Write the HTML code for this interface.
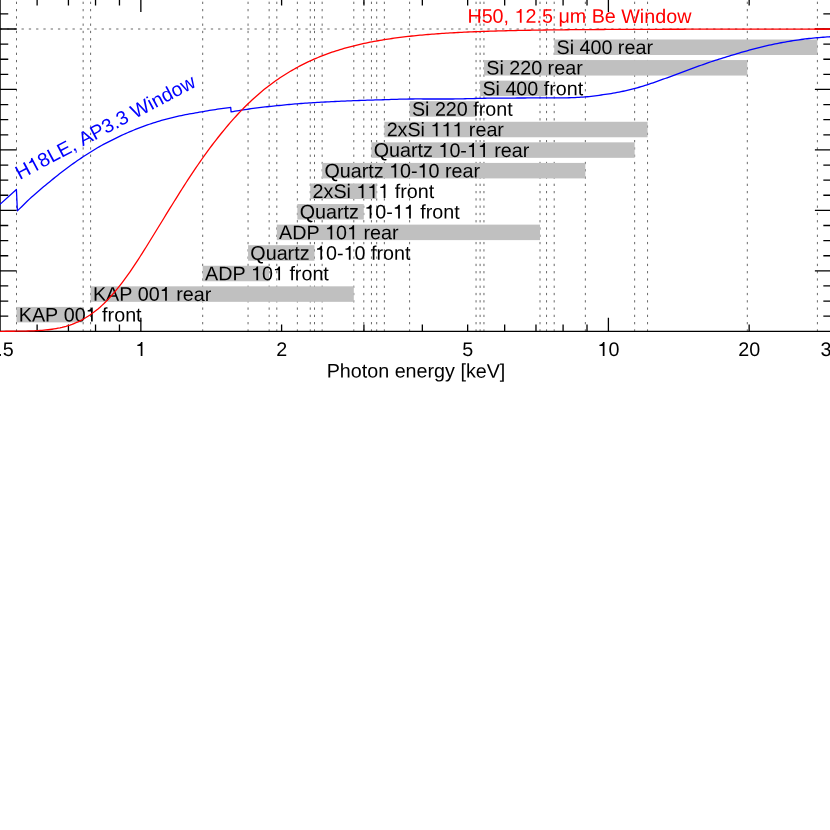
<!DOCTYPE html>
<html><head><meta charset="utf-8"><title>chart</title>
<style>html,body{margin:0;padding:0;background:#fff}svg{display:block}text{font-family:"Liberation Sans",sans-serif;font-size:19.72px;fill:#000;font-kerning:none;white-space:pre}.h{fill:none}</style>
</head><body>
<svg width="830" height="830" viewBox="0 0 830 830" style="will-change:transform">
<rect width="830" height="830" fill="#fff"/>
<path d="M16.50 331.60V-1.50M83.15 331.60V-1.50M90.60 331.60V-1.50M353.80 331.60V-1.50M202.70 331.60V-1.50M269.15 331.60V-1.50M248.05 331.60V-1.50M314.50 331.60V-1.50M276.80 331.60V-1.50M540.00 331.60V-1.50M297.35 331.60V-1.50M363.80 331.60V-1.50M310.25 331.60V-1.50M376.70 331.60V-1.50M322.15 331.60V-1.50M585.35 331.60V-1.50M371.45 331.60V-1.50M634.65 331.60V-1.50M384.35 331.60V-1.50M647.55 331.60V-1.50M409.60 331.60V-1.50M476.05 331.60V-1.50M480.10 331.60V-1.50M546.55 331.60V-1.50M483.95 331.60V-1.50M747.30 331.60V-1.50M554.20 331.60V-1.50M817.40 331.60V-1.50" fill="none" stroke="#000" stroke-width="0.6" stroke-dasharray="2.3 4.980"/>
<path d="M-0.3 29.00H831.48" fill="none" stroke="#000" stroke-width="0.6" stroke-dasharray="2.3 4.980"/>
<path d="M0.10 -1.50V331.30H831.48V-1.50ZM140.85 331.30v-13.45M140.85 -1.50v13.45M608.40 331.30v-13.45M608.40 -1.50v13.45M37.12 331.30v-6.9M37.12 -1.50v6.9M68.43 331.30v-6.9M68.43 -1.50v6.9M95.54 331.30v-6.9M95.54 -1.50v6.9M119.46 331.30v-6.9M119.46 -1.50v6.9M281.60 331.30v-6.9M281.60 -1.50v6.9M363.93 331.30v-6.9M363.93 -1.50v6.9M422.34 331.30v-6.9M422.34 -1.50v6.9M467.65 331.30v-6.9M467.65 -1.50v6.9M504.67 331.30v-6.9M504.67 -1.50v6.9M535.98 331.30v-6.9M535.98 -1.50v6.9M563.09 331.30v-6.9M563.09 -1.50v6.9M587.01 331.30v-6.9M587.01 -1.50v6.9M749.15 331.30v-6.9M749.15 -1.50v6.9M0.10 316.19h8.15M831.48 316.19h-8.15M0.10 301.07h8.15M831.48 301.07h-8.15M0.10 285.96h8.15M831.48 285.96h-8.15M0.10 270.84h16.6M831.48 270.84h-16.6M0.10 255.73h8.15M831.48 255.73h-8.15M0.10 240.61h8.15M831.48 240.61h-8.15M0.10 225.50h8.15M831.48 225.50h-8.15M0.10 210.38h16.6M831.48 210.38h-16.6M0.10 195.27h8.15M831.48 195.27h-8.15M0.10 180.15h8.15M831.48 180.15h-8.15M0.10 165.03h8.15M831.48 165.03h-8.15M0.10 149.92h16.6M831.48 149.92h-16.6M0.10 134.81h8.15M831.48 134.81h-8.15M0.10 119.69h8.15M831.48 119.69h-8.15M0.10 104.58h8.15M831.48 104.58h-8.15M0.10 89.46h16.6M831.48 89.46h-16.6M0.10 74.35h8.15M831.48 74.35h-8.15M0.10 59.23h8.15M831.48 59.23h-8.15M0.10 44.12h8.15M831.48 44.12h-8.15M0.10 29.00h16.6M831.48 29.00h-16.6M0.10 13.88h8.15M831.48 13.88h-8.15M0.10 -1.23h8.15M831.48 -1.23h-8.15" fill="none" stroke="#000" stroke-width="1.3" stroke-linecap="butt"/>
<rect x="16.50" y="306.90" width="66.65" height="15.5" fill="#c0c0c0"/>
<rect x="90.60" y="286.33" width="263.20" height="15.5" fill="#c0c0c0"/>
<rect x="202.70" y="265.76" width="66.45" height="15.5" fill="#c0c0c0"/>
<rect x="248.05" y="245.19" width="66.45" height="15.5" fill="#c0c0c0"/>
<rect x="276.80" y="224.62" width="263.20" height="15.5" fill="#c0c0c0"/>
<rect x="297.35" y="204.05" width="66.45" height="15.5" fill="#c0c0c0"/>
<rect x="310.25" y="183.48" width="66.45" height="15.5" fill="#c0c0c0"/>
<rect x="322.15" y="162.91" width="263.20" height="15.5" fill="#c0c0c0"/>
<rect x="371.45" y="142.34" width="263.20" height="15.5" fill="#c0c0c0"/>
<rect x="384.35" y="121.77" width="263.20" height="15.5" fill="#c0c0c0"/>
<rect x="409.60" y="101.20" width="66.45" height="15.5" fill="#c0c0c0"/>
<rect x="480.10" y="80.63" width="66.45" height="15.5" fill="#c0c0c0"/>
<rect x="483.95" y="60.06" width="263.35" height="15.5" fill="#c0c0c0"/>
<rect x="554.20" y="39.49" width="263.20" height="15.5" fill="#c0c0c0"/>
<text transform="matrix(1 0.0005 0 1 18.80 321.40)" x="0.00 13.15 26.31 39.46 44.94 55.91 66.87 77.84 83.32 88.80 95.36 106.33 117.30">KAP 00<tspan class="h">1</tspan> front</text>
<g transform="matrix(1 0.0005 0 1 18.80 321.40)" fill="#000"><path transform="translate(66.87 0) scale(0.01972 -0.01972)" d="M359 0H271V505H101V568C190 570 255 610 290 703H359Z"/></g>
<text transform="matrix(1 0.0005 0 1 92.90 300.83)" x="0.00 13.15 26.31 39.46 44.94 55.91 66.87 77.84 83.32 89.89 100.85 111.82">KAP 00<tspan class="h">1</tspan> rear</text>
<g transform="matrix(1 0.0005 0 1 92.90 300.83)" fill="#000"><path transform="translate(66.87 0) scale(0.01972 -0.01972)" d="M359 0H271V505H101V568C190 570 255 610 290 703H359Z"/></g>
<text transform="matrix(1 0.0005 0 1 205.00 280.26)" x="0.00 13.15 27.39 40.55 46.03 56.99 67.96 78.93 84.41 89.89 96.45 107.42 118.39">ADP <tspan class="h">1</tspan>0<tspan class="h">1</tspan> front</text>
<g transform="matrix(1 0.0005 0 1 205.00 280.26)" fill="#000"><path transform="translate(46.03 0) scale(0.01972 -0.01972)" d="M359 0H271V505H101V568C190 570 255 610 290 703H359Z"/><path transform="translate(67.96 0) scale(0.01972 -0.01972)" d="M359 0H271V505H101V568C190 570 255 610 290 703H359Z"/></g>
<text transform="matrix(1 0.0005 0 1 250.35 259.69)" x="0.00 15.34 26.31 37.27 43.84 49.32 59.18 64.66 75.63 86.59 93.16 104.13 115.09 120.57 126.05 132.62 143.59 154.55">Quartz <tspan class="h">1</tspan>0-<tspan class="h">1</tspan>0 front</text>
<g transform="matrix(1 0.0005 0 1 250.35 259.69)" fill="#000"><path transform="translate(64.66 0) scale(0.01972 -0.01972)" d="M359 0H271V505H101V568C190 570 255 610 290 703H359Z"/><path transform="translate(93.16 0) scale(0.01972 -0.01972)" d="M359 0H271V505H101V568C190 570 255 610 290 703H359Z"/></g>
<text transform="matrix(1 0.0005 0 1 279.10 239.12)" x="0.00 13.15 27.39 40.55 46.03 56.99 67.96 78.93 84.41 90.97 101.94 112.91">ADP <tspan class="h">1</tspan>0<tspan class="h">1</tspan> rear</text>
<g transform="matrix(1 0.0005 0 1 279.10 239.12)" fill="#000"><path transform="translate(46.03 0) scale(0.01972 -0.01972)" d="M359 0H271V505H101V568C190 570 255 610 290 703H359Z"/><path transform="translate(67.96 0) scale(0.01972 -0.01972)" d="M359 0H271V505H101V568C190 570 255 610 290 703H359Z"/></g>
<text transform="matrix(1 0.0005 0 1 299.65 218.55)" x="0.00 15.34 26.31 37.27 43.84 49.32 59.18 64.66 75.63 86.59 93.16 104.13 115.09 120.57 126.05 132.62 143.59 154.55">Quartz <tspan class="h">1</tspan>0-<tspan class="h">1</tspan><tspan class="h">1</tspan> front</text>
<g transform="matrix(1 0.0005 0 1 299.65 218.55)" fill="#000"><path transform="translate(64.66 0) scale(0.01972 -0.01972)" d="M359 0H271V505H101V568C190 570 255 610 290 703H359Z"/><path transform="translate(93.16 0) scale(0.01972 -0.01972)" d="M359 0H271V505H101V568C190 570 255 610 290 703H359Z"/><path transform="translate(104.13 0) scale(0.01972 -0.01972)" d="M359 0H271V505H101V568C190 570 255 610 290 703H359Z"/></g>
<text transform="matrix(1 0.0005 0 1 312.55 197.98)" x="0.00 10.97 20.83 33.98 38.36 43.84 54.81 65.78 76.74 82.22 87.70 94.27 105.23 116.20">2xSi <tspan class="h">1</tspan><tspan class="h">1</tspan><tspan class="h">1</tspan> front</text>
<g transform="matrix(1 0.0005 0 1 312.55 197.98)" fill="#000"><path transform="translate(43.84 0) scale(0.01972 -0.01972)" d="M359 0H271V505H101V568C190 570 255 610 290 703H359Z"/><path transform="translate(54.81 0) scale(0.01972 -0.01972)" d="M359 0H271V505H101V568C190 570 255 610 290 703H359Z"/><path transform="translate(65.78 0) scale(0.01972 -0.01972)" d="M359 0H271V505H101V568C190 570 255 610 290 703H359Z"/></g>
<text transform="matrix(1 0.0005 0 1 324.45 177.41)" x="0.00 15.34 26.31 37.27 43.84 49.32 59.18 64.66 75.63 86.59 93.16 104.13 115.09 120.57 127.14 138.11 149.07">Quartz <tspan class="h">1</tspan>0-<tspan class="h">1</tspan>0 rear</text>
<g transform="matrix(1 0.0005 0 1 324.45 177.41)" fill="#000"><path transform="translate(64.66 0) scale(0.01972 -0.01972)" d="M359 0H271V505H101V568C190 570 255 610 290 703H359Z"/><path transform="translate(93.16 0) scale(0.01972 -0.01972)" d="M359 0H271V505H101V568C190 570 255 610 290 703H359Z"/></g>
<text transform="matrix(1 0.0005 0 1 373.75 156.84)" x="0.00 15.34 26.31 37.27 43.84 49.32 59.18 64.66 75.63 86.59 93.16 104.13 115.09 120.57 127.14 138.11 149.07">Quartz <tspan class="h">1</tspan>0-<tspan class="h">1</tspan><tspan class="h">1</tspan> rear</text>
<g transform="matrix(1 0.0005 0 1 373.75 156.84)" fill="#000"><path transform="translate(64.66 0) scale(0.01972 -0.01972)" d="M359 0H271V505H101V568C190 570 255 610 290 703H359Z"/><path transform="translate(93.16 0) scale(0.01972 -0.01972)" d="M359 0H271V505H101V568C190 570 255 610 290 703H359Z"/><path transform="translate(104.13 0) scale(0.01972 -0.01972)" d="M359 0H271V505H101V568C190 570 255 610 290 703H359Z"/></g>
<text transform="matrix(1 0.0005 0 1 386.65 136.27)" x="0.00 10.97 20.83 33.98 38.36 43.84 54.81 65.78 76.74 82.22 88.79 99.76 110.72">2xSi <tspan class="h">1</tspan><tspan class="h">1</tspan><tspan class="h">1</tspan> rear</text>
<g transform="matrix(1 0.0005 0 1 386.65 136.27)" fill="#000"><path transform="translate(43.84 0) scale(0.01972 -0.01972)" d="M359 0H271V505H101V568C190 570 255 610 290 703H359Z"/><path transform="translate(54.81 0) scale(0.01972 -0.01972)" d="M359 0H271V505H101V568C190 570 255 610 290 703H359Z"/><path transform="translate(65.78 0) scale(0.01972 -0.01972)" d="M359 0H271V505H101V568C190 570 255 610 290 703H359Z"/></g>
<text transform="matrix(1 0.0005 0 1 411.90 115.70)" x="0.00 13.15 17.53 23.01 33.98 44.95 55.92 61.39 66.87 73.44 84.41 95.37">Si 220 front</text>
<text transform="matrix(1 0.0005 0 1 482.40 95.13)" x="0.00 13.15 17.53 23.01 33.98 44.95 55.92 61.39 66.87 73.44 84.41 95.37">Si 400 front</text>
<text transform="matrix(1 0.0005 0 1 486.25 74.56)" x="0.00 13.15 17.53 23.01 33.98 44.95 55.92 61.39 67.96 78.93 89.90">Si 220 rear</text>
<text transform="matrix(1 0.0005 0 1 556.50 53.99)" x="0.00 13.15 17.53 23.01 33.98 44.95 55.92 61.39 67.96 78.93 89.90">Si 400 rear</text>
<text transform="matrix(1 0.0005 0 1 0.10 355.90)" x="-13.71 -2.74 2.74">0.5</text>
<text transform="matrix(1 0.0005 0 1 140.85 355.90)" x="-5.48"><tspan class="h">1</tspan></text>
<g transform="matrix(1 0.0005 0 1 140.85 355.90)" fill="#000"><path transform="translate(-5.48 0) scale(0.01972 -0.01972)" d="M359 0H271V505H101V568C190 570 255 610 290 703H359Z"/></g>
<text transform="matrix(1 0.0005 0 1 281.60 355.90)" x="-5.48">2</text>
<text transform="matrix(1 0.0005 0 1 467.65 355.90)" x="-5.48">5</text>
<text transform="matrix(1 0.0005 0 1 608.40 355.90)" x="-10.97 0.00"><tspan class="h">1</tspan>0</text>
<g transform="matrix(1 0.0005 0 1 608.40 355.90)" fill="#000"><path transform="translate(-10.97 0) scale(0.01972 -0.01972)" d="M359 0H271V505H101V568C190 570 255 610 290 703H359Z"/></g>
<text transform="matrix(1 0.0005 0 1 749.15 355.90)" x="-10.97 0.00">20</text>
<text transform="matrix(1 0.0005 0 1 831.48 355.90)" x="-10.97 0.00">30</text>
<text transform="matrix(1 0.0005 0 1 416.00 377.60)" x="-89.35 -76.19 -65.23 -54.26 -48.78 -37.81 -26.85 -21.37 -10.40 0.57 11.54 18.10 29.07 38.93 44.41 49.89 59.75 70.71 83.87">Photon energy [keV]</text>
<path d="M-3.0 206.90 L0.0 204.30 L16.4 189.45 L17.4 210.80 L19.4 208.86 L21.4 206.92 L23.4 204.97 L25.4 203.01 L27.4 201.04 L29.4 199.11 L31.4 197.27 L33.5 195.49 L35.5 193.74 L37.5 191.98 L39.5 190.24 L41.5 188.52 L43.5 186.83 L45.5 185.17 L47.5 183.52 L49.5 181.89 L51.5 180.25 L53.5 178.63 L55.5 177.02 L57.5 175.42 L59.5 173.85 L61.5 172.29 L63.5 170.76 L65.5 169.24 L67.5 167.74 L69.5 166.26 L71.5 164.80 L73.5 163.36 L75.5 161.94 L77.5 160.55 L79.5 159.18 L81.5 157.84 L83.5 156.52 L85.5 155.22 L87.5 153.95 L89.5 152.69 L91.5 151.44 L93.5 150.20 L95.5 148.99 L97.5 147.80 L99.5 146.64 L101.5 145.53 L103.5 144.44 L105.5 143.38 L107.5 142.34 L109.5 141.31 L111.5 140.30 L113.5 139.30 L115.5 138.30 L117.5 137.32 L119.5 136.35 L121.5 135.40 L123.5 134.49 L125.5 133.60 L127.5 132.73 L129.4 131.88 L131.4 131.06 L133.4 130.24 L135.4 129.45 L137.4 128.66 L139.4 127.89 L141.4 127.13 L143.4 126.38 L145.4 125.65 L147.4 124.95 L149.4 124.25 L151.4 123.57 L153.4 122.91 L155.4 122.26 L157.4 121.63 L159.4 121.03 L161.4 120.45 L163.4 119.90 L165.4 119.36 L167.4 118.85 L169.4 118.34 L171.4 117.85 L173.4 117.37 L175.4 116.90 L177.4 116.43 L179.4 115.98 L181.4 115.55 L183.4 115.13 L185.4 114.73 L187.4 114.35 L189.4 113.98 L191.4 113.62 L193.4 113.27 L195.4 112.93 L197.4 112.58 L199.4 112.23 L201.4 111.87 L203.4 111.52 L205.4 111.16 L207.4 110.81 L209.4 110.46 L211.4 110.13 L213.4 109.82 L215.4 109.52 L217.4 109.23 L219.4 108.94 L221.4 108.66 L223.4 108.38 L225.4 108.10 L227.4 107.82 L229.4 107.54 L230.7 107.37 L231.1 111.94 L233.1 111.57 L235.1 111.21 L237.1 110.86 L239.1 110.53 L241.1 110.20 L243.1 109.89 L245.1 109.58 L247.1 109.28 L249.1 108.99 L251.1 108.71 L253.1 108.44 L255.1 108.18 L257.1 107.92 L259.1 107.68 L261.1 107.44 L263.1 107.20 L265.1 106.97 L267.1 106.75 L269.1 106.52 L271.1 106.31 L273.1 106.09 L275.1 105.88 L277.1 105.68 L279.1 105.48 L281.1 105.28 L283.1 105.08 L285.1 104.89 L287.1 104.69 L289.1 104.50 L291.1 104.32 L293.1 104.13 L295.1 103.96 L297.1 103.79 L299.1 103.64 L301.1 103.49 L303.1 103.35 L305.1 103.21 L307.1 103.08 L309.1 102.95 L311.1 102.82 L313.1 102.69 L315.1 102.57 L317.1 102.45 L319.1 102.33 L321.1 102.21 L323.1 102.10 L325.1 101.99 L327.1 101.89 L329.1 101.78 L331.1 101.68 L333.1 101.58 L335.1 101.49 L337.1 101.40 L339.1 101.30 L341.1 101.22 L343.1 101.13 L345.1 101.04 L347.1 100.96 L349.1 100.88 L351.1 100.80 L353.1 100.72 L355.1 100.65 L357.1 100.57 L359.1 100.50 L361.1 100.43 L363.1 100.36 L365.1 100.29 L367.1 100.22 L369.1 100.16 L371.1 100.09 L373.1 100.03 L375.1 99.97 L377.1 99.91 L379.1 99.85 L381.1 99.79 L383.1 99.73 L385.1 99.66 L387.1 99.59 L389.1 99.53 L391.1 99.46 L393.1 99.40 L395.1 99.34 L397.1 99.28 L399.1 99.22 L401.1 99.17 L403.1 99.13 L405.1 99.08 L407.1 99.05 L409.1 99.02 L411.1 99.00 L413.1 98.98 L415.1 98.97 L417.1 98.97 L419.1 98.97 L421.1 98.97 L423.1 98.98 L425.1 98.98 L427.1 98.98 L429.1 98.98 L431.1 98.98 L433.1 98.98 L435.1 98.99 L437.1 98.99 L439.1 98.99 L441.1 98.99 L443.1 98.99 L445.1 99.00 L447.1 99.00 L449.1 99.00 L451.1 98.99 L453.1 98.98 L455.1 98.96 L457.1 98.94 L459.1 98.90 L461.1 98.86 L463.1 98.81 L465.1 98.76 L467.1 98.70 L469.1 98.65 L471.1 98.59 L473.1 98.53 L475.1 98.48 L477.1 98.42 L479.1 98.37 L481.1 98.32 L483.1 98.28 L485.1 98.24 L487.1 98.21 L489.1 98.19 L491.1 98.18 L493.1 98.16 L495.1 98.14 L497.1 98.13 L499.1 98.12 L501.1 98.10 L503.1 98.09 L505.1 98.08 L507.1 98.07 L509.1 98.06 L511.1 98.05 L513.1 98.04 L515.1 98.03 L517.1 98.02 L519.1 98.01 L521.1 98.00 L523.1 97.99 L525.1 97.98 L527.1 97.97 L529.1 97.96 L531.1 97.96 L533.1 97.95 L535.1 97.94 L537.1 97.94 L539.1 97.93 L541.1 97.93 L543.1 97.92 L545.1 97.92 L547.1 97.91 L549.1 97.91 L551.1 97.90 L553.1 97.89 L555.1 97.89 L557.1 97.88 L559.1 97.87 L561.1 97.86 L563.1 97.85 L565.1 97.83 L567.1 97.81 L569.1 97.77 L571.1 97.71 L573.1 97.63 L575.1 97.54 L577.1 97.43 L579.1 97.31 L581.1 97.19 L583.1 97.06 L585.1 96.92 L587.1 96.76 L589.1 96.57 L591.1 96.34 L593.1 96.09 L595.1 95.82 L597.1 95.55 L599.1 95.27 L601.1 95.00 L603.1 94.73 L605.1 94.44 L607.1 94.15 L609.1 93.84 L611.1 93.52 L613.1 93.18 L615.1 92.83 L617.1 92.46 L619.1 92.08 L621.1 91.67 L623.1 91.25 L625.1 90.81 L627.1 90.36 L629.1 89.89 L631.1 89.41 L633.1 88.90 L635.1 88.37 L637.1 87.82 L639.1 87.25 L641.1 86.67 L643.1 86.08 L645.1 85.46 L647.1 84.82 L649.1 84.16 L651.1 83.47 L653.1 82.78 L655.1 82.08 L657.1 81.38 L659.1 80.67 L661.1 79.96 L663.1 79.23 L665.1 78.50 L667.1 77.77 L669.1 77.03 L671.1 76.29 L673.1 75.55 L675.1 74.81 L677.1 74.07 L679.1 73.32 L681.1 72.58 L683.1 71.83 L685.1 71.09 L687.1 70.36 L689.1 69.62 L691.1 68.88 L693.1 68.15 L695.1 67.42 L697.1 66.69 L699.1 65.97 L701.1 65.25 L703.1 64.55 L705.1 63.84 L707.1 63.14 L709.1 62.45 L711.1 61.76 L713.1 61.09 L715.1 60.43 L717.1 59.79 L719.1 59.17 L721.1 58.55 L723.1 57.94 L725.1 57.33 L727.1 56.71 L729.1 56.09 L731.1 55.48 L733.1 54.87 L735.1 54.26 L737.1 53.67 L739.1 53.08 L741.1 52.49 L743.1 51.91 L745.1 51.33 L747.1 50.76 L749.1 50.20 L751.1 49.65 L753.1 49.11 L755.1 48.59 L757.1 48.08 L759.1 47.58 L761.1 47.08 L763.1 46.60 L765.1 46.13 L767.1 45.67 L769.1 45.23 L771.1 44.79 L773.1 44.36 L775.1 43.95 L777.1 43.54 L779.1 43.14 L781.1 42.76 L783.1 42.39 L785.1 42.03 L787.1 41.68 L789.1 41.33 L791.1 41.00 L793.1 40.68 L795.1 40.37 L797.1 40.08 L799.1 39.79 L801.1 39.51 L803.1 39.24 L805.1 38.98 L807.1 38.74 L809.1 38.51 L811.1 38.30 L813.1 38.10 L815.1 37.91 L817.1 37.74 L819.1 37.56 L821.1 37.40 L823.1 37.25 L825.1 37.10 L827.1 36.96 L829.1 36.82 L831.1 36.70 L833.1 36.58 L835.1 36.48 L836.0 36.43" fill="none" stroke="#00f" stroke-width="1.3" stroke-linejoin="round"/>
<path d="M-2.0 331.29 L0.0 331.29 L2.0 331.29 L4.0 331.28 L6.0 331.27 L8.0 331.27 L10.0 331.26 L12.0 331.25 L14.0 331.23 L16.0 331.22 L18.0 331.20 L20.0 331.17 L22.0 331.14 L24.0 331.11 L26.0 331.06 L28.0 331.01 L30.0 330.95 L32.0 330.88 L34.0 330.80 L36.0 330.70 L38.0 330.59 L40.0 330.47 L42.0 330.32 L44.0 330.16 L46.0 329.97 L48.0 329.75 L50.0 329.51 L52.0 329.24 L54.0 328.94 L56.0 328.60 L58.0 328.22 L60.0 327.81 L62.0 327.35 L64.0 326.84 L66.0 326.29 L68.0 325.69 L70.0 325.03 L72.0 324.32 L74.0 323.54 L76.0 322.71 L78.0 321.81 L80.0 320.84 L82.0 319.81 L84.0 318.71 L86.0 317.53 L88.0 316.28 L90.0 314.96 L92.0 313.56 L94.0 312.08 L96.0 310.52 L98.0 308.89 L100.0 307.18 L102.0 305.37 L104.0 303.48 L106.0 301.49 L108.0 299.41 L110.0 297.26 L112.0 295.02 L114.0 292.71 L116.0 290.34 L118.0 287.89 L120.0 285.38 L122.0 282.79 L124.0 280.13 L126.0 277.42 L128.0 274.64 L130.0 271.80 L132.0 268.90 L134.0 265.94 L136.0 262.93 L138.0 259.86 L140.0 256.75 L142.0 253.60 L144.0 250.43 L146.0 247.22 L148.0 244.00 L150.0 240.76 L152.0 237.51 L154.0 234.26 L156.0 231.01 L158.0 227.76 L160.0 224.50 L162.0 221.23 L164.0 217.97 L166.0 214.71 L168.0 211.46 L170.0 208.21 L172.0 204.98 L174.0 201.75 L176.0 198.54 L178.0 195.35 L180.0 192.17 L182.0 189.01 L184.0 185.88 L186.0 182.77 L188.0 179.69 L190.0 176.64 L192.0 173.62 L194.0 170.63 L196.0 167.68 L198.0 164.75 L200.0 161.86 L202.0 159.00 L204.0 156.18 L206.0 153.40 L208.0 150.65 L210.0 147.94 L212.0 145.26 L214.0 142.63 L216.0 140.04 L218.0 137.49 L220.0 134.98 L222.0 132.52 L224.0 130.07 L226.0 127.65 L228.0 125.27 L230.0 122.93 L232.0 120.64 L234.0 118.40 L236.0 116.19 L238.0 114.03 L240.0 111.91 L242.0 109.83 L244.0 107.79 L246.0 105.79 L248.0 103.83 L250.0 101.92 L252.0 100.04 L254.0 98.21 L256.0 96.41 L258.0 94.66 L260.0 92.94 L262.0 91.26 L264.0 89.62 L266.0 88.02 L268.0 86.46 L270.0 84.93 L272.0 83.43 L274.0 81.98 L276.0 80.56 L278.0 79.17 L280.0 77.82 L282.0 76.50 L284.0 75.20 L286.0 73.94 L288.0 72.71 L290.0 71.51 L292.0 70.34 L294.0 69.20 L296.0 68.09 L298.0 67.00 L300.0 65.93 L302.0 64.89 L304.0 63.88 L306.0 62.89 L308.0 61.93 L310.0 60.99 L312.0 60.08 L314.0 59.20 L316.0 58.34 L318.0 57.50 L320.0 56.68 L322.0 55.89 L324.0 55.12 L326.0 54.36 L328.0 53.63 L330.0 52.92 L332.0 52.23 L334.0 51.56 L336.0 50.91 L338.0 50.27 L340.0 49.66 L342.0 49.06 L344.0 48.47 L346.0 47.91 L348.0 47.36 L350.0 46.82 L352.0 46.30 L354.0 45.80 L356.0 45.31 L358.0 44.83 L360.0 44.37 L362.0 43.92 L364.0 43.48 L366.0 43.05 L368.0 42.64 L370.0 42.23 L372.0 41.84 L374.0 41.46 L376.0 41.09 L378.0 40.74 L380.0 40.39 L382.0 40.05 L384.0 39.72 L386.0 39.41 L388.0 39.10 L390.0 38.80 L392.0 38.51 L394.0 38.22 L396.0 37.95 L398.0 37.68 L400.0 37.42 L402.0 37.17 L404.0 36.93 L406.0 36.69 L408.0 36.46 L410.0 36.24 L412.0 36.02 L414.0 35.81 L416.0 35.61 L418.0 35.41 L420.0 35.22 L422.0 35.04 L424.0 34.86 L426.0 34.68 L428.0 34.52 L430.0 34.35 L432.0 34.19 L434.0 34.04 L436.0 33.89 L438.0 33.75 L440.0 33.60 L442.0 33.47 L444.0 33.34 L446.0 33.21 L448.0 33.08 L450.0 32.96 L452.0 32.84 L454.0 32.73 L456.0 32.62 L458.0 32.51 L460.0 32.41 L462.0 32.31 L464.0 32.21 L466.0 32.11 L468.0 32.02 L470.0 31.93 L472.0 31.85 L474.0 31.76 L476.0 31.68 L478.0 31.61 L480.0 31.53 L482.0 31.46 L484.0 31.39 L486.0 31.32 L488.0 31.25 L490.0 31.18 L492.0 31.12 L494.0 31.06 L496.0 31.00 L498.0 30.94 L500.0 30.89 L502.0 30.83 L504.0 30.78 L506.0 30.73 L508.0 30.68 L510.0 30.63 L512.0 30.59 L514.0 30.55 L516.0 30.50 L518.0 30.46 L520.0 30.42 L522.0 30.38 L524.0 30.35 L526.0 30.31 L528.0 30.27 L530.0 30.24 L532.0 30.21 L534.0 30.17 L536.0 30.14 L538.0 30.11 L540.0 30.08 L542.0 30.05 L544.0 30.02 L546.0 29.99 L548.0 29.97 L550.0 29.94 L552.0 29.91 L554.0 29.89 L556.0 29.86 L558.0 29.84 L560.0 29.82 L562.0 29.80 L564.0 29.78 L566.0 29.76 L568.0 29.74 L570.0 29.72 L572.0 29.70 L574.0 29.69 L576.0 29.67 L578.0 29.65 L580.0 29.64 L582.0 29.62 L584.0 29.61 L586.0 29.59 L588.0 29.58 L590.0 29.56 L592.0 29.55 L594.0 29.54 L596.0 29.52 L598.0 29.51 L600.0 29.50 L602.0 29.49 L604.0 29.48 L606.0 29.46 L608.0 29.45 L610.0 29.44 L612.0 29.44 L614.0 29.43 L616.0 29.42 L618.0 29.41 L620.0 29.41 L622.0 29.40 L624.0 29.39 L626.0 29.38 L628.0 29.38 L630.0 29.37 L632.0 29.36 L634.0 29.36 L636.0 29.35 L638.0 29.35 L640.0 29.34 L642.0 29.33 L644.0 29.33 L646.0 29.32 L648.0 29.32 L650.0 29.31 L652.0 29.30 L654.0 29.30 L656.0 29.29 L658.0 29.29 L660.0 29.28 L662.0 29.28 L664.0 29.27 L666.0 29.27 L668.0 29.26 L670.0 29.26 L672.0 29.25 L674.0 29.25 L676.0 29.24 L678.0 29.24 L680.0 29.24 L682.0 29.23 L684.0 29.23 L686.0 29.22 L688.0 29.22 L690.0 29.22 L692.0 29.21 L694.0 29.21 L696.0 29.21 L698.0 29.21 L700.0 29.20 L702.0 29.20 L704.0 29.20 L706.0 29.20 L708.0 29.20 L710.0 29.19 L712.0 29.19 L714.0 29.19 L716.0 29.19 L718.0 29.19 L720.0 29.18 L722.0 29.18 L724.0 29.18 L726.0 29.18 L728.0 29.18 L730.0 29.17 L732.0 29.17 L734.0 29.17 L736.0 29.17 L738.0 29.17 L740.0 29.16 L742.0 29.16 L744.0 29.16 L746.0 29.16 L748.0 29.16 L750.0 29.16 L752.0 29.16 L754.0 29.16 L756.0 29.15 L758.0 29.15 L760.0 29.15 L762.0 29.15 L764.0 29.15 L766.0 29.15 L768.0 29.15 L770.0 29.15 L772.0 29.15 L774.0 29.15 L776.0 29.15 L778.0 29.15 L780.0 29.14 L782.0 29.14 L784.0 29.14 L786.0 29.14 L788.0 29.14 L790.0 29.14 L792.0 29.14 L794.0 29.14 L796.0 29.14 L798.0 29.14 L800.0 29.14 L802.0 29.14 L804.0 29.14 L806.0 29.13 L808.0 29.13 L810.0 29.13 L812.0 29.13 L814.0 29.13 L816.0 29.13 L818.0 29.13 L820.0 29.13 L822.0 29.13 L824.0 29.13 L826.0 29.13 L828.0 29.13 L830.0 29.13 L832.0 29.13 L834.0 29.13" fill="none" stroke="#f00" stroke-width="1.3" stroke-linejoin="round"/>
<path d="M814.3 29.13H832" fill="none" stroke="#f00" stroke-width="1.3"/>
<text transform="matrix(1 0.0005 0 1 467.40 22.80)" x="0.00 14.24 25.21 36.18 41.65 47.13 58.10 69.07 74.55 85.51 90.99 102.36 118.78 124.26 137.41 148.38 153.86 172.47 176.85 187.82 198.79 209.76" style="fill:#f00">H50, <tspan class="h">1</tspan>2.5 μm Be Window</text>
<g transform="matrix(1 0.0005 0 1 467.40 22.80)" fill="#f00"><path transform="translate(47.13 0) scale(0.01972 -0.01972)" d="M359 0H271V505H101V568C190 570 255 610 290 703H359Z"/></g>
<text transform="translate(19.80 179.95) rotate(-27.9)" x="0.00 14.24 25.21 36.18 47.14 60.30 65.78 71.25 84.41 97.56 108.53 114.01 124.97 130.45 149.07 153.45 164.41 175.38 186.35" style="fill:#00f">H<tspan class="h">1</tspan>8LE, AP3.3 Window</text>
<g transform="translate(19.80 179.95) rotate(-27.9)" fill="#00f"><path transform="translate(14.24 0) scale(0.01972 -0.01972)" d="M359 0H271V505H101V568C190 570 255 610 290 703H359Z"/></g>
</svg>
</body></html>
